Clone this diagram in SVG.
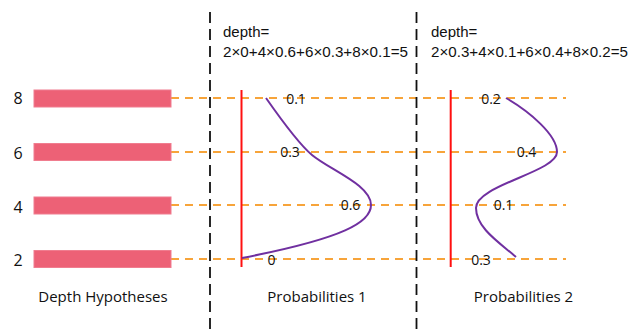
<svg xmlns="http://www.w3.org/2000/svg" width="640" height="332" viewBox="0 0 640 332">
<style>
.bar{fill:#ED6176;stroke:#F07D8F;stroke-width:1}
.guide{stroke:#F7A43A;stroke-width:1.8;stroke-dasharray:8,6;fill:none}
.sep{stroke:#111;stroke-width:1.8;stroke-dasharray:11,6;fill:none}
.axis{stroke:#FF1010;stroke-width:2;fill:none}
.curve{stroke:#7030A0;stroke-width:2;fill:none}
.num{font-family:"Open Sans","Noto Sans",sans-serif;font-size:16px;fill:#111}
.lbl{font-family:"Open Sans","Noto Sans",sans-serif;font-size:15px;fill:#111}
.val{font-family:"Open Sans","Noto Sans",sans-serif;font-size:14px;fill:#111}
.formula{font-family:"Liberation Sans",Arial,sans-serif;font-size:15px;fill:#111}
</style>
<rect width="640" height="332" fill="#fff"/>
<g id="connectors">
<line class="guide" x1="171" y1="98" x2="566" y2="98"/>
<line class="guide" x1="171" y1="152" x2="566" y2="152"/>
<line class="guide" x1="171" y1="205" x2="566" y2="205"/>
<line class="guide" x1="171" y1="259" x2="566" y2="259"/>
<line class="sep" x1="210" y1="12" x2="210" y2="332"/>
<line class="sep" x1="416.5" y1="12" x2="416.5" y2="332"/>
</g>
<g id="hypotheses">
<rect class="bar" x="34" y="90" width="137" height="17"/>
<rect class="bar" x="34" y="143.5" width="137" height="17"/>
<rect class="bar" x="34" y="197" width="137" height="17"/>
<rect class="bar" x="34" y="250.5" width="137" height="17"/>
<text class="num" x="18" y="103.5" text-anchor="middle">8</text>
<text class="num" x="18" y="158.5" text-anchor="middle">6</text>
<text class="num" x="18" y="212.5" text-anchor="middle">4</text>
<text class="num" x="18" y="266" text-anchor="middle">2</text>
<text class="lbl" x="103" y="302" text-anchor="middle">Depth Hypotheses</text>
</g>
<g id="prob1">
<line class="axis" x1="241.5" y1="90" x2="241.5" y2="267"/>
<path class="curve" d="M266,98 C280,118 300,145 312,155 C330,170 371,185 371,205 C371,222 345,238 242,258"/>
<text class="val" x="296" y="103.5" text-anchor="middle">0.1</text>
<text class="val" x="290" y="156.5" text-anchor="middle">0.3</text>
<text class="val" x="350.5" y="210" text-anchor="middle">0.6</text>
<text class="val" x="271.5" y="265" text-anchor="middle">0</text>
<text class="lbl" x="317" y="302" text-anchor="middle">Probabilities 1</text>
<text class="formula" x="223" y="37">depth=</text>
<text class="formula" x="223" y="57" textLength="185" lengthAdjust="spacingAndGlyphs">2×0+4×0.6+6×0.3+8×0.1=5</text>
</g>
<g id="prob2">
<line class="axis" x1="450.7" y1="90" x2="450.7" y2="267"/>
<path class="curve" d="M506,98 C530,112 557,135 557,152 C557,172 476,185 476,208 C476,228 500,243 516,257"/>
<text class="val" x="491" y="103.5" text-anchor="middle">0.2</text>
<text class="val" x="526.5" y="157" text-anchor="middle">0.4</text>
<text class="val" x="503.5" y="210" text-anchor="middle">0.1</text>
<text class="val" x="481" y="264.5" text-anchor="middle">0.3</text>
<text class="lbl" x="523.5" y="302" text-anchor="middle">Probabilities 2</text>
<text class="formula" x="431" y="37">depth=</text>
<text class="formula" x="431" y="57" textLength="197" lengthAdjust="spacingAndGlyphs">2×0.3+4×0.1+6×0.4+8×0.2=5</text>
</g>
</svg>
